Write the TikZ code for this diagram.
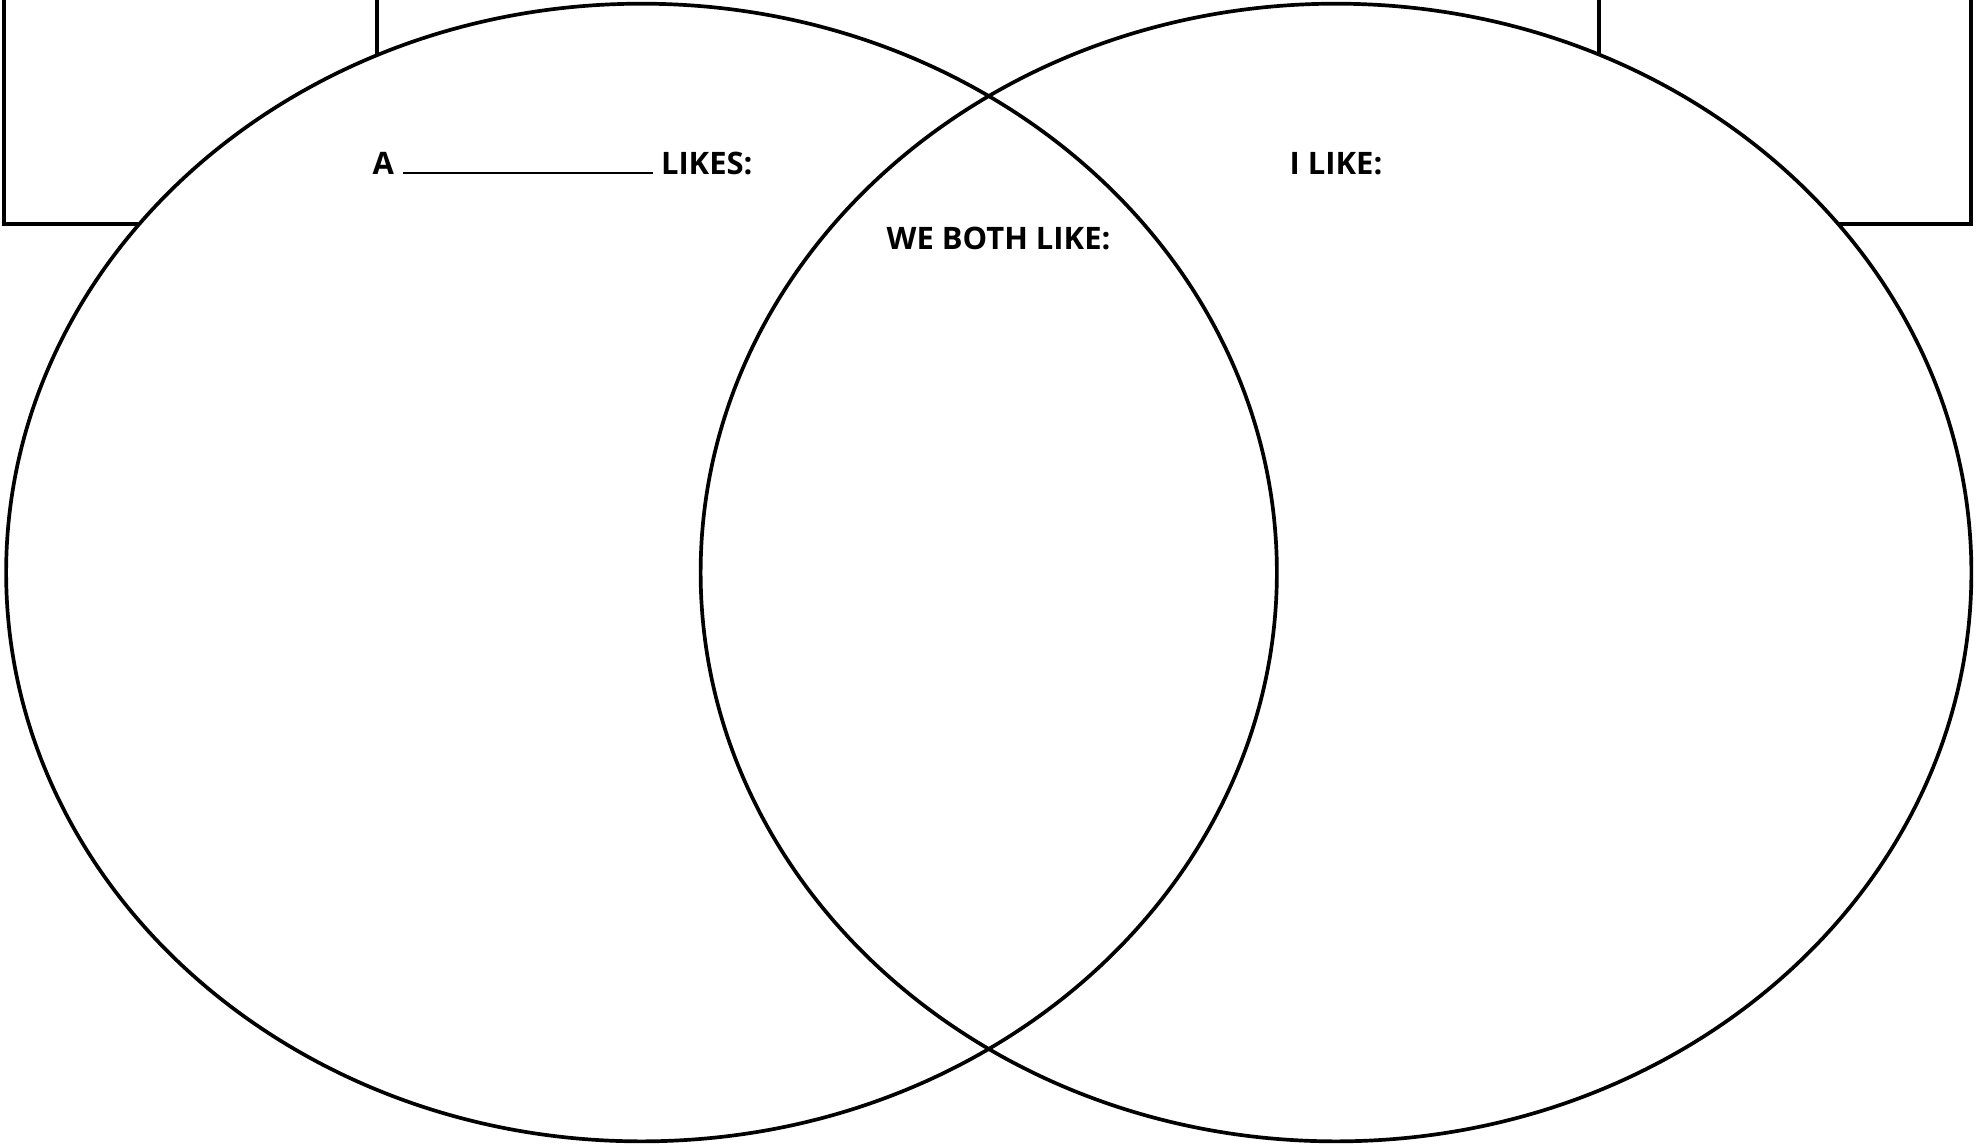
\documentclass[tikz,border=0pt]{standalone}
\usepackage{fontspec}
\setmainfont{Open Sans}

\begin{document}
\begin{tikzpicture}[x=0.01cm, y=-0.01cm, line width=1.05pt,
  titel/.style={anchor=base, inner sep=0pt, font=\fontsize{8.8}{10}\selectfont\bfseries}]

\useasboundingbox (0,0) rectangle (1982,1144);

% Kästen oben
\draw (4,0) -- (4,224) -- (377,224) -- (377,0);
\draw (1599,0) -- (1599,224) -- (1971,224) -- (1971,0);

% Ellipsen
\fill[white] (641.5,572.5) ellipse [x radius=6.35cm, y radius=5.685cm];
\fill[white] (1336,572.5) ellipse [x radius=6.35cm, y radius=5.685cm];
\draw (641.5,572.5) ellipse [x radius=6.35cm, y radius=5.685cm];
\draw (1336,572.5) ellipse [x radius=6.35cm, y radius=5.685cm];

% Beschriftungen
\node[titel] (links) at (562.5,174)
      {A\hspace{0.09cm}\rule{2.5cm}{0.6pt}\hspace{0.08cm}LIKES:};
\node[titel] (mitte) at (998.5,249) {WE BOTH LIKE:};
\node[titel] (rechts) at (1336,174) {I LIKE:};

\end{tikzpicture}
\end{document}
